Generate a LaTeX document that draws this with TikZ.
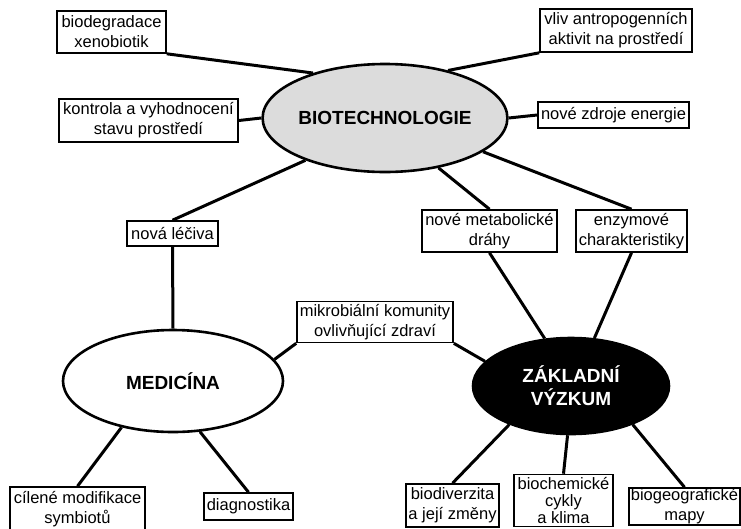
\documentclass[tikz,border=0pt]{standalone}
\usepackage{fontspec}
\setmainfont{Liberation Sans}
\usetikzlibrary{shapes.geometric}
\definecolor{ellgray}{RGB}{220,220,220}
\begin{document}
\begin{tikzpicture}[x=1pt,y=-1pt,
  box/.style={draw, line width=1.6pt, align=center, inner sep=0pt,
    font=\fontsize{16.5}{20}\selectfont, fill=white},
  hub/.style={ellipse, draw, line width=2.6pt, inner sep=0pt, align=center,
    font=\fontsize{19}{23}\selectfont\bfseries},
  link/.style={line width=3pt}]
\useasboundingbox (0,0) rectangle (741,528);
\clip (0,0) rectangle (741,528);
\fill[white] (0,0) rectangle (741,528);

% hubs
\node[hub, fill=ellgray, minimum width=216pt, minimum height=108pt] (bt) at (385,118) {BIOTECHNOLOGIE};
\node[hub, fill=white, minimum width=220pt, minimum height=102pt] (med) at (173,381) {MEDICÍNA};
\node[hub, fill=black, text=white, minimum width=196pt, minimum height=96pt] (zv) at (571,386) {ZÁKLADNÍ\\VÝZKUM};

% boxes
\node[box, minimum width=109pt, minimum height=42pt] (biodeg) at (111.5,32) {biodegradace\\xenobiotik};
\node[box, minimum width=179pt, minimum height=43pt] (kontr) at (148.5,120.5) {kontrola a vyhodnocení\\stavu prostředí};
\node[box, minimum width=91pt, minimum height=25pt] (lec) at (172.5,233.5) {nová léčiva};
\node[box, minimum width=152pt, minimum height=43pt] (vliv) at (616,30.5) {vliv antropogenních\\aktivit na prostředí};
\node[box, minimum width=151pt, minimum height=26pt] (zdroj) at (613.5,115) {nové zdroje energie};
\node[box, minimum width=135pt, minimum height=42pt] (metab) at (489.5,231) {nové metabolické\\dráhy};
\node[box, minimum width=111pt, minimum height=42pt] (enz) at (631.5,231) {enzymové\\charakteristiky};
\node[box, minimum width=156pt, minimum height=41pt] (mikro) at (375,322) {mikrobiální komunity\\ovlivňující zdraví};
\node[box, minimum width=135pt, minimum height=44pt] (cil) at (77.5,509) {cílené modifikace\\symbiotů};
\node[box, minimum width=89pt, minimum height=27pt] (diag) at (248.5,506.5) {diagnostika};
\node[box, minimum width=93pt, minimum height=43pt] (biodiv) at (452.5,505.5) {biodiverzita\\a její změny};
\node[box, minimum width=99pt, minimum height=52pt, font=\fontsize{16.5}{17}\selectfont] (biochem) at (563.5,500.5) {biochemické\\cykly\\a klima};
\node[box, minimum width=111pt, minimum height=37pt] (biogeo) at (684.5,506.5) {biogeografické\\mapy};

% connectors
\draw[link] (biodeg.south east) -- (bt.148);
\draw[link] (kontr.east) -- (bt.west);
\draw[link] (lec.north) -- (bt.208);
\draw[link] (vliv.south west) -- (bt.37);
\draw[link] (zdroj.west) -- (bt.east);
\draw[link] (metab.north) -- (bt.317);
\draw[link] (enz.north) -- (bt.341);
\draw[link] (lec.south) -- (med.north);
\draw[link] (mikro.south west) -- (med.12);
\draw[link] (mikro.south east) -- (zv.164);
\draw[link] (metab.south) -- (zv.119);
\draw[link] (enz.south) -- (zv.64);
\draw[link] (med.222) -- (cil.north);
\draw[link] (med.298) -- (diag.north);
\draw[link] (zv.212) -- (biodiv.north);
\draw[link] (zv.266) -- (biochem.north);
\draw[link] (zv.328) -- (biogeo.north);
\end{tikzpicture}
\end{document}
